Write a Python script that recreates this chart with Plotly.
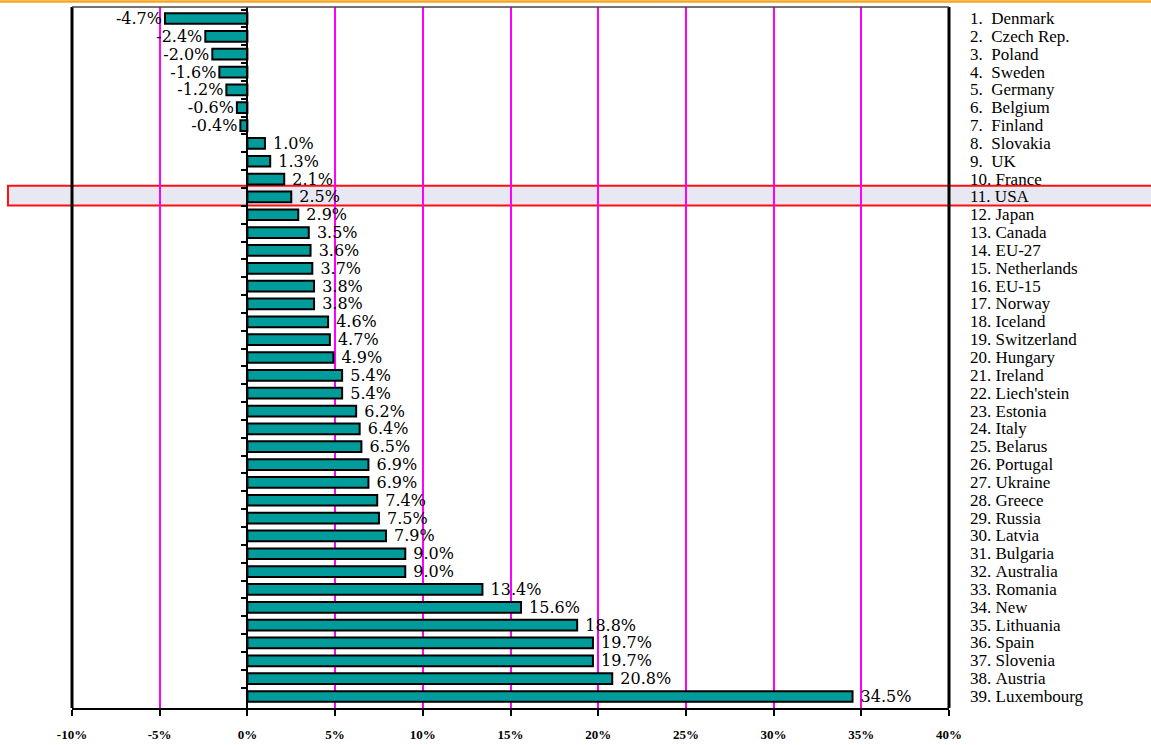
import plotly.graph_objects as go

countries = ["Denmark", "Czech Rep.", "Poland", "Sweden", "Germany", "Belgium", "Finland",
             "Slovakia", "UK", "France", "USA", "Japan", "Canada", "EU-27", "Netherlands",
             "EU-15", "Norway", "Iceland", "Switzerland", "Hungary", "Ireland", "Liech'stein",
             "Estonia", "Italy", "Belarus", "Portugal", "Ukraine", "Greece", "Russia", "Latvia",
             "Bulgaria", "Australia", "Romania", "New", "Lithuania", "Spain", "Slovenia",
             "Austria", "Luxembourg"]
values = [-4.7, -2.4, -2.0, -1.6, -1.2, -0.6, -0.4, 1.0, 1.3, 2.1, 2.5, 2.9, 3.5, 3.6, 3.7,
          3.8, 3.8, 4.6, 4.7, 4.9, 5.4, 5.4, 6.2, 6.4, 6.5, 6.9, 6.9, 7.4, 7.5, 7.9, 9.0, 9.0,
          13.4, 15.6, 18.8, 19.7, 19.7, 20.8, 34.5]
tick_vals = [-10, -5, 0, 5, 10, 15, 20, 25, 30, 35, 40]
tick_text = ["-10%", "-5%", "0%", "5%", "10%", "15%", "20%", "25%", "30%", "35%", "40%"]
highlight = "USA"

labels = [f"{i + 1}.{'\u00a0\u00a0' if i < 9 else '\u00a0'}{c}" for i, c in enumerate(countries)]
SERIF = "Liberation Serif"

templates = ["%{x:.1f}%" if v < 0 else "\u00a0%{x:.1f}%" for v in values]

fig = go.Figure()
fig.add_trace(go.Bar(
    y=countries, x=values, orientation="h", width=0.6,
    marker=dict(color="#009b9b", line=dict(color="black", width=2)),
    texttemplate=templates, textposition="outside", constraintext="none",
    cliponaxis=False,
    textfont=dict(family="DejaVu Serif", size=16, color="black"),
    hoverinfo="skip",
))

n = len(countries)
# highlighted row (paper coords derived from category index)
hi = countries.index(highlight)
yc = 1 - (hi + 0.5) / n
half = 0.55 / n
fig.add_shape(type="rect", xref="paper", yref="paper", x0=-0.073, x1=1.25,
              y0=yc - half, y1=yc + half, layer="below",
              fillcolor="#e8e8f2", line=dict(color="#ff1010", width=2))

for lab, c in zip(labels, countries):
    fig.add_annotation(x=1.022, xref="paper", y=c, yref="y", text=lab, showarrow=False,
                       xanchor="left", yanchor="middle",
                       font=dict(family=SERIF, size=17, color="black"))

# frame: thick left/right, thin top, orange line at very top
fig.add_shape(type="line", xref="paper", yref="paper", x0=0, x1=0, y0=0, y1=1,
              line=dict(color="black", width=3))
fig.add_shape(type="line", xref="paper", yref="paper", x0=1, x1=1, y0=0, y1=1,
              line=dict(color="black", width=3))
fig.add_shape(type="line", xref="paper", yref="paper", x0=0, x1=1, y0=1, y1=1,
              line=dict(color="#444444", width=1.5))
fig.add_shape(type="line", xref="paper", yref="paper", x0=-0.1, x1=1.25, y0=1.008, y1=1.008,
              line=dict(color="#f5a623", width=2.5))

fig.update_layout(
    width=1151, height=745,
    margin=dict(l=72, r=202, t=7, b=37, autoexpand=False),
    plot_bgcolor="white", paper_bgcolor="white",
    showlegend=False,
    xaxis=dict(range=[-10, 40], tickvals=tick_vals, ticktext=tick_text, automargin=False,
               showgrid=True, gridcolor="#ff00ff", gridwidth=2, zeroline=False,
               showline=True, linecolor="black", linewidth=2,
               ticks="outside", ticklen=6, tickwidth=2, tickcolor="black",
               ticklabelstandoff=7,
               tickfont=dict(family=SERIF, size=13, color="black", weight="bold")),
    yaxis=dict(type="category", categoryorder="array", categoryarray=countries,
               autorange="reversed", anchor="free", position=0.2, showgrid=False,
               automargin=False,
               showline=True, linecolor="black", linewidth=2, zeroline=False,
               ticks="outside", ticklen=5, tickwidth=2, tickcolor="black",
               tickson="boundaries", showticklabels=False),
    bargap=0.45,
)

fig.write_html("out.html")
